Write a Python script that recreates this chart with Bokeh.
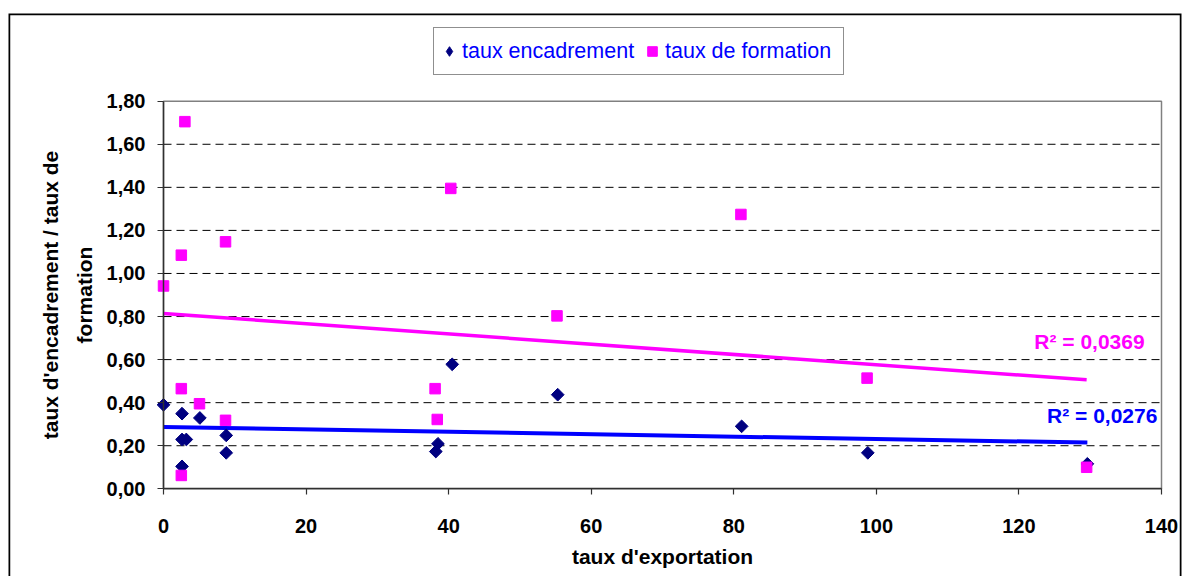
import numpy as np
from bokeh.plotting import figure
from bokeh.models import (Range1d, FixedTicker, CustomJSTickFormatter, Legend,
                          LegendItem, Label, BoxAnnotation)
from bokeh.embed import file_html
from bokeh.resources import INLINE

# ---- data ----
x_enc = [0, 2.6, 5.1, 2.6, 3.2, 2.6, 8.8, 8.8, 38.2, 38.5, 40.5, 55.3, 81.1, 98.8, 129.6]
y_enc = [0.39, 0.349, 0.329, 0.229, 0.229, 0.104, 0.248, 0.167, 0.173, 0.209,
         0.578, 0.437, 0.29, 0.167, 0.116]
x_form = [0, 2.5, 2.5, 2.5, 3.0, 5.05, 8.7, 8.7, 38.1, 38.4, 40.3, 55.2, 81.0, 98.7, 129.5]
y_form = [0.942, 1.085, 0.465, 0.062, 1.705, 0.395, 1.147, 0.318, 0.465, 0.322,
          1.395, 0.803, 1.274, 0.514, 0.10]
series_names = ["taux encadrement", "taux de formation"]
r2_texts = ["R\u00b2 = 0,0276", "R\u00b2 = 0,0369"]
x_ticks = [0, 20, 40, 60, 80, 100, 120, 140]
y_ticks = [0.0, 0.2, 0.4, 0.6, 0.8, 1.0, 1.2, 1.4, 1.6, 1.8]
x_title = "taux d'exportation"
y_title = "taux d'encadrement / taux de\nformation"

FONT = "Liberation Sans"
NAVY = "#000080"
PINK = "#FF00FF"
BLUE = "#0000FF"

# ---- layout (pixels) ----
W, H = 1182, 576
CH_L, CH_T, CH_R = 8, 13, 1181          # outer chart area = bokeh frame
PA_L, PA_R, PA_T, PA_B = 163.0, 1161.0, 100.7, 488.3   # inner plot area
X0, X1 = x_ticks[0], x_ticks[-1]
Y0, Y1 = y_ticks[0], y_ticks[-1]
sx = (PA_R - PA_L) / (X1 - X0)
sy = (PA_B - PA_T) / (Y1 - Y0)
xr = Range1d(X0 + (CH_L - PA_L) / sx, X0 + (CH_R - PA_L) / sx)
yr = Range1d(Y0 - (H - PA_B) / sy, Y0 + (PA_B - CH_T) / sy)

p = figure(width=W, height=H, output_backend="svg", toolbar_location=None,
           title=None, x_range=xr, y_range=yr,
           min_border_left=CH_L, min_border_right=W - CH_R,
           min_border_top=CH_T, min_border_bottom=0)
p.background_fill_color = "white"
p.border_fill_color = "white"
p.outline_line_color = None

# outer chart border: left, top, right (the bottom edge lies below the window)
p.add_layout(BoxAnnotation(left=xr.start, right=xr.end, top=yr.end,
                           bottom=yr.start - 1.0, fill_alpha=0,
                           line_color="black", line_alpha=1.0, line_width=3.5,
                           level="overlay"))

# axes, pinned to the inner plot area
p.xaxis.fixed_location = Y0
p.yaxis.fixed_location = X0
p.xaxis.bounds = (X0, X1)
p.yaxis.bounds = (Y0, Y1)
for ax in (p.xaxis[0], p.yaxis[0]):
    ax.axis_line_color = "#303030"
    ax.axis_line_width = 1.5
    ax.major_tick_line_color = "#303030"
    ax.major_tick_line_width = 1.2
    ax.major_tick_out = 6
    ax.major_tick_in = 0
    ax.minor_tick_line_color = None
    ax.major_label_text_font = FONT
    ax.major_label_text_font_style = "bold"
    ax.major_label_text_font_size = "20px"
    ax.major_label_text_color = "black"
    ax.axis_label_text_font = FONT
    ax.axis_label_text_font_style = "bold"
    ax.axis_label_text_font_size = "21px"
    ax.axis_label_text_color = "black"

p.xaxis.ticker = FixedTicker(ticks=x_ticks)
p.yaxis.ticker = FixedTicker(ticks=y_ticks)
p.yaxis.formatter = CustomJSTickFormatter(code="return tick.toFixed(2).replace('.', ',');")
p.xaxis.major_label_standoff = 24
p.yaxis.major_label_standoff = 12
p.xaxis.axis_label = x_title
p.yaxis.axis_label = y_title
p.xaxis.axis_label_standoff = 9
p.yaxis.axis_label_standoff = 8
p.yaxis.axis_label_text_line_height = 1.45

p.xgrid.grid_line_color = None
p.ygrid.grid_line_color = None

# plot-area frame (grey) and dashed horizontal grid lines within it
p.add_layout(BoxAnnotation(left=X0, right=X1, bottom=Y0, top=Y1,
                           fill_alpha=0, line_color="#808080", line_alpha=1.0,
                           line_width=1.5, level="underlay"))
gy = y_ticks[1:-1]
p.segment(x0=[X0] * len(gy), x1=[X1] * len(gy), y0=gy, y1=gy,
          line_color="black", line_width=1, line_dash="8 5")

# trend lines (least squares, as Excel does)
def trend(xs, ys):
    a, b = np.polyfit(np.array(xs, float), np.array(ys, float), 1)
    xx = np.array([min(xs), max(xs)], float)
    return xx, a * xx + b

tx_e, ty_e = trend(x_enc, y_enc)
tx_f, ty_f = trend(x_form, y_form)
p.line(tx_f, ty_f, line_color=PINK, line_width=3.5)
p.line(tx_e, ty_e, line_color=BLUE, line_width=4)

r_enc = p.scatter(x_enc, y_enc, marker="square", angle=np.pi / 4, size=9,
                  fill_color=NAVY, line_color=NAVY, line_width=1)
r_form = p.scatter(x_form, y_form, marker="square", size=10.5,
                   fill_color=PINK, line_color=PINK, line_width=1)
# legend swatch for the diamonds (legend glyphs are drawn unrotated)
r_enc_key = p.scatter(x_enc, y_enc, marker="diamond", fill_color=NAVY,
                      line_color=NAVY, line_width=1)
r_enc_key.visible = False

p.add_layout(Label(x=tx_f[-1], y=ty_f[-1], x_offset=58, y_offset=38,
                   text=r2_texts[1], text_align="right", text_baseline="middle",
                   text_font=FONT, text_font_style="bold", text_font_size="21px",
                   text_color=PINK))
p.add_layout(Label(x=tx_e[-1], y=ty_e[-1], x_offset=70, y_offset=27,
                   text=r2_texts[0], text_align="right", text_baseline="middle",
                   text_font=FONT, text_font_style="bold", text_font_size="21px",
                   text_color=BLUE))

legend = Legend(items=[LegendItem(label=series_names[0], renderers=[r_enc_key]),
                       LegendItem(label=series_names[1], renderers=[r_form])],
                orientation="horizontal", location=(425, 501),
                label_text_font=FONT, label_text_font_size="21.5px",
                label_text_color=BLUE, border_line_color="#202020",
                border_line_width=1, background_fill_color="white",
                background_fill_alpha=1, glyph_width=24, glyph_height=40,
                label_height=40, label_width=175, label_standoff=1,
                spacing=3, padding=3, margin=0,
                inactive_fill_alpha=0, click_policy="none")
p.add_layout(legend, "center")

open("out.html", "w").write(file_html(p, INLINE))
